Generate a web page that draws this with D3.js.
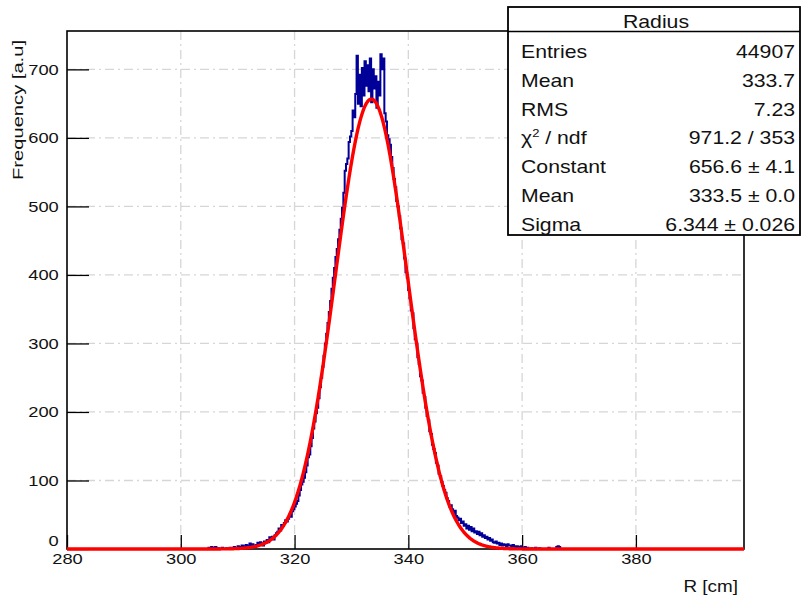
<!DOCTYPE html>
<html>
<head>
<meta charset="utf-8">
<script src="https://cdn.jsdelivr.net/npm/d3@7"></script>
<style>
  body { margin: 0; background: #fff; }
  text { font-family: "Liberation Sans", Arial, sans-serif; fill: #111; }
</style>
</head>
<body>
<div class="chart"></div>
<script>
// histogram: 512 bins between 280 and 399, first listed bin is index 107
const x_range = [280, 399];
const n_bins = 512;
const first_bin = 107;
const bin_values = [
  2, 0, 3, 2, 0, 3, 0, 1, 0, 0, 2, 0, 0, 1, 0, 0, 2, 0, 0, 3,
  0, 2, 4, 1, 3, 5, 2, 4, 6, 3, 5, 8, 4, 7, 5, 3, 6, 9, 7, 10,
  8, 5, 11, 9, 13, 10, 17, 15, 18, 14, 20, 23, 25, 30, 27, 35, 34, 38, 42, 40,
  44, 50, 47, 55, 58, 62, 66, 70, 78, 86, 94, 98, 104, 112, 122, 134, 138, 150, 162, 176,
  186, 198, 206, 220, 236, 250, 266, 282, 300, 314, 330, 346, 362, 380, 396, 410, 426, 438, 452, 466,
  482, 498, 520, 552, 562, 570, 594, 602, 610, 640, 630, 664, 720, 650, 692, 646, 702, 662, 712, 676,
  706, 668, 716, 652, 700, 672, 690, 644, 682, 662, 722, 700, 716, 636, 624, 604, 598, 590, 572, 556,
  540, 528, 508, 500, 486, 468, 452, 446, 424, 404, 396, 378, 366, 348, 344, 322, 306, 300, 280, 270,
  252, 246, 228, 222, 206, 194, 188, 172, 168, 152, 146, 140, 126, 122, 110, 106, 98, 92, 86, 82,
  74, 70, 62, 64, 58, 52, 56, 48, 46, 42, 44, 38, 40, 34, 36, 30, 34, 28, 32, 26,
  30, 24, 26, 22, 25, 20, 23, 18, 20, 16, 18, 14, 16, 12, 14, 10, 9, 11, 8, 9,
  6, 8, 5, 7, 6, 4, 7, 5, 5, 3, 6, 4, 3, 4, 2, 3, 4, 2, 0, 3,
  0, 2, 0, 0, 1, 0, 0, 2, 0, 0, 1, 0, 0, 0, 0, 0, 0, 2, 0, 0,
  0, 0, 0, 3, 4, 3, 0, 0
];

// gaussian fit parameters (from the stats box)
const fit_constant = 656.6;
const fit_mean = 333.5;
const fit_sigma = 6.344;

const y_max = 756;
const x_major = [280, 300, 320, 340, 360, 380];
const y_major = [0, 100, 200, 300, 400, 500, 600, 700];

const stat_title = 'Radius';
const stat_labels = ['Entries', 'Mean', 'RMS', 'chi2', 'Constant', 'Mean', 'Sigma'];
const stat_values = ['44907', '333.7', '7.23', '971.2 / 353', '656.6 \u00b1 4.1', '333.5 \u00b1 0.0', '6.344 \u00b1 0.026'];

const W = 805, H = 597;
const frame = { left: 67, right: 744, top: 31, bottom: 549 };
const sx = 1.18; // text in the picture is a bit wider than Liberation Sans

const svg = d3.select('.chart').append('svg').attr('width', W).attr('height', H);

const x = d3.scaleLinear().domain(x_range).range([frame.left, frame.right]);
const y = d3.scaleLinear().domain([0, y_max]).range([frame.bottom, frame.top]);

// grid
const grid = svg.append('g')
  .attr('stroke', '#d6d6d6').attr('stroke-width', 1.3)
  .attr('stroke-dasharray', '9,4,2,4').attr('fill', 'none');
grid.selectAll('.gx').data(x_major.slice(1)).enter().append('line')
  .attr('x1', d => x(d)).attr('x2', d => x(d))
  .attr('y1', frame.top).attr('y2', frame.bottom);
grid.selectAll('.gy').data(y_major.slice(1)).enter().append('line')
  .attr('y1', d => y(d)).attr('y2', d => y(d))
  .attr('x1', frame.left).attr('x2', frame.right);

// histogram as step line
const w = (x_range[1] - x_range[0]) / n_bins;
const contents = new Array(n_bins).fill(0);
bin_values.forEach((v, i) => { contents[first_bin + i] = v; });
const steps = contents.map((v, i) => [x_range[0] + i * w, v]);
steps.push([x_range[1], contents[n_bins - 1]]);

const hist_line = d3.line()
  .x(d => x(d[0]))
  .y(d => y(d[1]))
  .curve(d3.curveStepAfter);

// axes (ticks point inward like ROOT)
const x_axis_group = svg.append('g').attr('transform', `translate(0,${frame.bottom})`);
x_axis_group.call(d3.axisBottom(x).tickValues(d3.range(280, 399, 5)).tickSizeInner(-7).tickSizeOuter(0).tickFormat(''));
x_axis_group.call(d3.axisBottom(x).tickValues(x_major).tickSizeInner(-14).tickSizeOuter(0).tickPadding(4).tickFormat(d3.format('d')));

const y_axis_group = svg.append('g').attr('transform', `translate(${frame.left},0)`);
y_axis_group.call(d3.axisLeft(y).tickValues(d3.range(0, 756, 20)).tickSizeInner(-11).tickSizeOuter(0).tickFormat(''));
y_axis_group.call(d3.axisLeft(y).tickValues(y_major).tickSizeInner(-22).tickSizeOuter(0).tickPadding(7).tickFormat(d3.format('d')));

svg.selectAll('.tick line').attr('stroke', '#000').attr('stroke-width', 1.3);
svg.selectAll('.domain').remove();
svg.selectAll('.tick text')
  .attr('font-size', 15.5)
  .attr('font-family', '"Liberation Sans", Arial, sans-serif')
  .attr('fill', '#111')
  .attr('transform', `scale(${sx},1)`);
// the "0" label sits right on top of "280": lift it so they do not collide
y_axis_group.selectAll('.tick text').filter(d => d === 0).attr('dy', '-4px');

// frame
svg.append('rect')
  .attr('x', frame.left).attr('y', frame.top)
  .attr('width', frame.right - frame.left).attr('height', frame.bottom - frame.top)
  .attr('fill', 'none').attr('stroke', '#000').attr('stroke-width', 1.6);

svg.append('path')
  .datum(steps)
  .attr('fill', 'none')
  .attr('stroke', '#000099')
  .attr('stroke-width', 2)
  .attr('d', hist_line);

// fit curve
const fit_pts = d3.range(x_range[0], x_range[1] + 0.001, 0.1).map(v =>
  [v, fit_constant * Math.exp(-0.5 * Math.pow((v - fit_mean) / fit_sigma, 2))]);
svg.append('path')
  .datum(fit_pts)
  .attr('fill', 'none')
  .attr('stroke', '#ff0000')
  .attr('stroke-width', 3.4)
  .attr('stroke-linejoin', 'round')
  .attr('d', d3.line().x(d => x(d[0])).y(d => y(d[1])));

// text helper, stretched a little along the writing direction
function put_text(parent, px, py, str, anchor, size, rot, stretch) {
  return parent.append('text')
    .attr('transform', `translate(${px},${py}) rotate(${rot || 0}) scale(${stretch || sx},1)`)
    .attr('text-anchor', anchor)
    .attr('font-size', size)
    .text(str);
}

// axis titles
put_text(svg, 738, 592, 'R [cm]', 'end', 16);
put_text(svg, 23, 40, 'Frequency [a.u]', 'end', 15.5, -90, 1.3);

// stats box
const box = svg.append('g');
box.append('rect')
  .attr('x', 508).attr('y', 7).attr('width', 292).attr('height', 228)
  .attr('fill', '#fff').attr('stroke', '#000').attr('stroke-width', 1.8);
box.append('line')
  .attr('x1', 508).attr('x2', 800).attr('y1', 31.5).attr('y2', 31.5)
  .attr('stroke', '#000').attr('stroke-width', 1.4);
put_text(box, 656, 28, stat_title, 'middle', 18);

stat_labels.forEach((lab, i) => {
  const by = 58 + i * 28.8;
  if (lab === 'chi2') {
    const t = put_text(box, 521, by, '', 'start', 18);
    t.append('tspan').text('\u03c7');
    t.append('tspan').attr('font-size', 11).attr('dy', -7).text('2');
    t.append('tspan').attr('dy', 7).text(' / ndf');
  } else {
    put_text(box, 521, by, lab, 'start', 18);
  }
  put_text(box, 795, by, stat_values[i], 'end', 18);
});
</script>
</body>
</html>
